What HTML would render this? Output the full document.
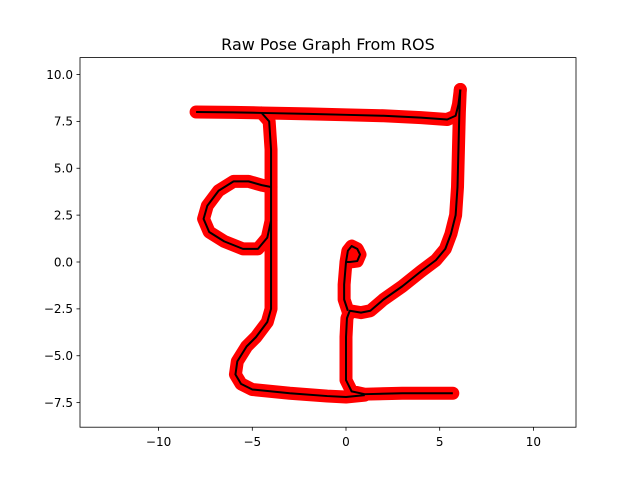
<!DOCTYPE html>
<html><head><meta charset="utf-8"><style>
body{margin:0;background:#fff;}
svg text{font-family:"DejaVu Sans","Liberation Sans",sans-serif;}
</style></head><body>
<svg id="chart" width="640" height="480" xmlns="http://www.w3.org/2000/svg">
<rect width="640" height="480" fill="#fff"/>
<text x="328" y="50" font-size="16" text-anchor="middle">Raw Pose Graph From ROS</text>
<g id="marks"></g>
<rect x="80" y="57.6" width="496" height="369.6" fill="none" stroke="#000" stroke-width="0.8"/>
<g id="axes"></g>
</svg>
<script>
const xTicks=[-10,-5,0,5,10];
const yTicks=[-7.5,-5,-2.5,0,2.5,5,7.5,10];
const segTop=[[-8,8],[-6,7.98],[-4.5,7.95],[-2,7.9],[0,7.85],[2,7.8],[4,7.7],[5.4,7.6],[5.85,7.8],[6.0,8.4],[6.1,9.2]];
const segRight=[[6.1,9.2],[6.05,8],[6,6],[5.95,4],[5.85,2.5],[5.6,1.5],[5.3,0.7],[4.8,0.1],[4,-0.5],[3,-1.3],[2,-2],[1.3,-2.6],[0.8,-2.7],[0.2,-2.6],[0.05,-3],[0,-4],[0,-5],[0,-6.3],[0.3,-6.9],[1,-7.05],[3,-7],[5.7,-7]];
const segHook=[[0.1,-2.6],[-0.1,-2],[-0.1,-1.2],[0,0],[0.1,0.6],[0.3,0.85],[0.6,0.7],[0.75,0.4],[0.6,0.05],[0.2,0],[0,0]];
const segLeft=[[-4.5,7.95],[-4.1,7.5],[-4,6],[-4,4],[-4,2],[-4,0],[-4,-2.5],[-4.2,-3.2],[-4.8,-4],[-5.3,-4.5],[-5.8,-5.3],[-5.9,-6],[-5.6,-6.5],[-5,-6.8],[-3,-7],[-1,-7.15],[0,-7.2],[1,-7.1]];
const segLoop=[[-4,4],[-4.5,4.1],[-5.2,4.3],[-6,4.3],[-6.8,3.8],[-7.4,3],[-7.6,2.3],[-7.3,1.6],[-6.5,1.1],[-5.5,0.7],[-4.7,0.7],[-4.2,1.3],[-4,2.2]];
const segments=[segTop,segRight,segHook,segLeft,segLoop];
const X=v=>346+v*18.74, Y=v=>262-v*18.75;
const NS="http://www.w3.org/2000/svg";
const marks=document.getElementById('marks'), axes=document.getElementById('axes');
function pts(s){return s.map(p=>X(p[0])+','+Y(p[1])).join(' ');}
segments.forEach((s,i)=>{
 const r=document.createElementNS(NS,'polyline');
 r.setAttribute('points',pts(s));r.setAttribute('fill','none');r.setAttribute('stroke','#ff0000');r.setAttribute('stroke-width','13');r.setAttribute('stroke-linejoin','round');r.setAttribute('stroke-linecap','round');
 
 
 marks.appendChild(r);
});
segments.forEach((s,i)=>{
 const l=document.createElementNS(NS,'polyline');
 l.setAttribute('points',pts(s));l.setAttribute('fill','none');l.setAttribute('stroke','#000');l.setAttribute('stroke-width','2');l.setAttribute('stroke-linejoin','round');
 
 
 marks.appendChild(l);
});
xTicks.forEach(t=>{
 const x=X(t);
 const ln=document.createElementNS(NS,'line');
 ln.setAttribute('x1',x);ln.setAttribute('x2',x);ln.setAttribute('y1',427.2);ln.setAttribute('y2',430.7);ln.setAttribute('stroke','#000');ln.setAttribute('stroke-width','0.8');
 
 
 axes.appendChild(ln);
 const tx=document.createElementNS(NS,'text');
 tx.setAttribute('x',x);tx.setAttribute('y',446);tx.setAttribute('font-size','12');tx.setAttribute('text-anchor','middle');
 tx.textContent=(t<0?'\u2212':'')+Math.abs(t);
 
 
 axes.appendChild(tx);
});
yTicks.forEach(t=>{
 const y=Y(t);
 const ln=document.createElementNS(NS,'line');
 ln.setAttribute('x1',76.5);ln.setAttribute('x2',80);ln.setAttribute('y1',y);ln.setAttribute('y2',y);ln.setAttribute('stroke','#000');ln.setAttribute('stroke-width','0.8');
 
 
 axes.appendChild(ln);
 const tx=document.createElementNS(NS,'text');
 tx.setAttribute('x',73);tx.setAttribute('y',y+4.3);tx.setAttribute('font-size','12');tx.setAttribute('text-anchor','end');
 tx.textContent=(t<0?'\u2212':'')+Math.abs(t).toFixed(1);
 
 
 axes.appendChild(tx);
});
</script>
</body></html>
